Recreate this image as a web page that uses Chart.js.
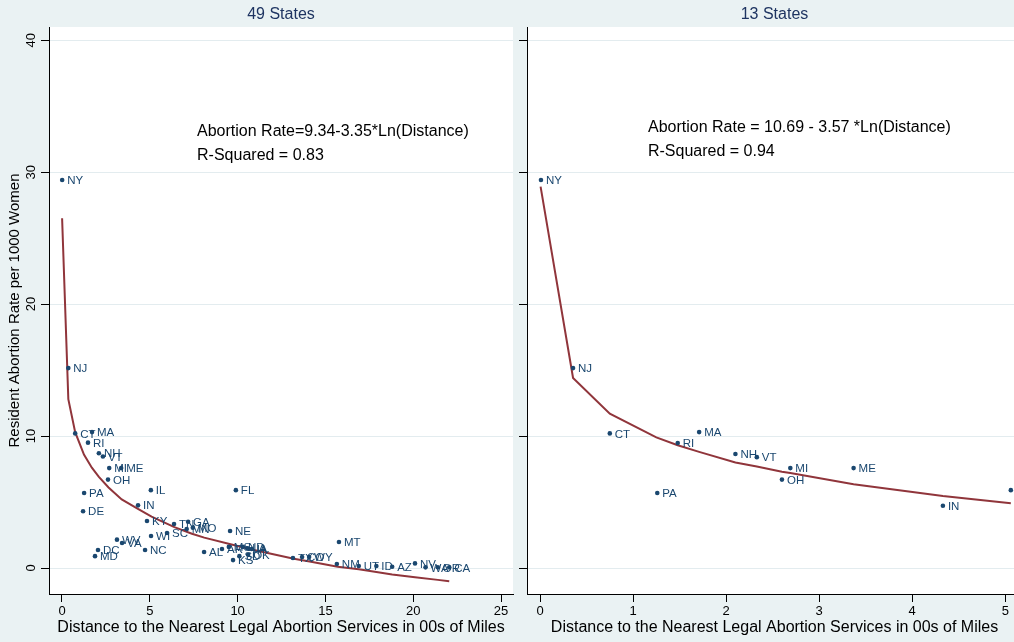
<!DOCTYPE html>
<html>
<head>
<meta charset="utf-8">
<script src="https://cdn.jsdelivr.net/npm/chart.js@4.4.1/dist/chart.umd.min.js"></script>
<style>
  body { margin: 0; background: #eaf2f3; overflow: hidden; }
  #wrap { position: relative; width: 1014px; height: 642px; overflow: hidden; }
  canvas { position: absolute; top: 0; }
</style>
</head>
<body>
<div id="wrap">
  <canvas id="left" width="514" height="642" style="left:0"></canvas>
  <canvas id="right" width="508" height="642" style="left:514px"></canvas>
</div>
<script>
// 49 states panel
const states49 = ['NY','NJ','CT','MA','RI','NH','VT','MI','ME','OH','PA','IN','IL','FL','DE','KY','TN','GA','SC','MN','MO','WI','NE','NC','WV','VA','DC','MD','AL','AR','MS','ND','LA','IA','KS','SD','OK','TX','CO','WY','MT','NM','UT','ID','AZ','NV','WA','OR','CA'];
const dist49 = [0.01,0.36,0.75,1.71,1.48,2.1,2.33,2.69,3.37,2.62,1.26,4.33,5.06,9.9,1.2,4.84,6.38,7.18,5.98,7.1,7.45,5.07,9.57,4.73,3.13,3.42,2.05,1.88,8.09,9.11,9.5,10.3,10.55,10.8,9.74,10.1,10.6,13.15,13.67,14.07,15.77,15.65,16.9,17.9,18.8,20.1,20.7,21.4,22.05];
const rate49 = [29.4,15.15,10.2,10.3,9.5,8.7,8.45,7.57,7.57,6.7,5.68,4.75,5.9,5.9,4.3,3.56,3.33,3.5,2.65,2.95,3.05,2.42,2.8,1.36,2.15,1.9,1.36,0.9,1.21,1.44,1.6,1.6,1.5,1.44,0.6,0.9,1.0,0.76,0.83,0.83,1.97,0.3,0.15,0.15,0.1,0.35,0.05,0.05,0.05];
// fitted curve
const fit49X = [0.006,0.36,0.75,1.25,1.7,2.1,2.65,3.4,4.3,5.1,6.4,7.4,8.1,9.6,10.8,13.2,14.1,15.7,16.9,17.9,18.8,20.1,21.4,22.05];
const fit49Y = [26.5,12.8,10.3,8.6,7.6,6.9,6.1,5.2,4.5,3.9,3.1,2.6,2.3,1.8,1.4,0.7,0.5,0.1,-0.1,-0.3,-0.5,-0.7,-0.9,-1.0];

// 13 states panel
const states13 = ['NY','NJ','CT','MA','RI','NH','VT','MI','ME','OH','PA','IN','IL'];
const dist13 = [0.01,0.355,0.75,1.71,1.48,2.1,2.33,2.69,3.37,2.6,1.26,4.33,5.06];
const rate13 = [29.4,15.15,10.2,10.3,9.47,8.64,8.4,7.57,7.57,6.7,5.68,4.72,5.9];
const fit13X = [0.006,0.355,0.75,1.25,1.48,1.71,2.1,2.33,2.6,2.69,3.37,4.33,5.06];
const fit13Y = [28.9,14.4,11.7,9.9,9.3,8.8,8.0,7.7,7.3,7.2,6.35,5.45,4.9];

const yTicks = [0, 10, 20, 30, 40];
const xTicksLeft = [0, 5, 10, 15, 20, 25];
const xTicksRight = [0, 1, 2, 3, 4, 5];

const NAVY = '#1a476f';
const RED = '#90353b';
const FONT = '"Liberation Sans", Arial, sans-serif';
const xTitle = 'Distance to the Nearest Legal Abortion Services in 00s of Miles';

const stataLook = {
  id: 'stataLook',
  beforeDraw(chart, args, opts) {
    const { ctx, chartArea: a } = chart;
    ctx.save();
    ctx.fillStyle = '#eaf2f3';
    ctx.fillRect(0, 0, chart.width, chart.height);
    ctx.fillStyle = '#ffffff';
    ctx.fillRect(a.left, a.top, a.right - a.left, a.bottom - a.top);
    ctx.fillStyle = '#1e3461';
    ctx.font = '16px ' + FONT;
    ctx.textAlign = 'center';
    ctx.textBaseline = 'middle';
    ctx.fillText(opts.title, (a.left + a.right) / 2, 15);
    ctx.restore();
  },
  afterDatasetsDraw(chart, args, opts) {
    const { ctx } = chart;
    const xs = chart.scales.x, ys = chart.scales.y;
    ctx.save();
    // state labels next to each dot
    ctx.fillStyle = NAVY;
    ctx.font = '11.5px ' + FONT;
    ctx.textAlign = 'left';
    ctx.textBaseline = 'middle';
    chart.getDatasetMeta(0).data.forEach((pt, i) => {
      ctx.fillText(opts.labels[i], pt.x + 5, pt.y + 1);
    });
    // equation text
    ctx.fillStyle = '#000';
    ctx.font = '16px ' + FONT;
    const ex = xs.getPixelForValue(opts.eqAt[0]);
    const ey = ys.getPixelForValue(opts.eqAt[1]);
    opts.eq.forEach((line, i) => ctx.fillText(line, ex, ey + i * 24));
    // rotated y tick labels
    if (opts.yLabels) {
      ctx.font = '13px ' + FONT;
      ctx.textAlign = 'center';
      yTicks.forEach(v => {
        const py = ys.getPixelForValue(v);
        ctx.save();
        ctx.translate(31, py);
        ctx.rotate(-Math.PI / 2);
        ctx.fillText(String(v), 0, 0);
        ctx.restore();
      });
    }
    ctx.restore();
  }
};

function makePanel(id, o) {
  return new Chart(document.getElementById(id), {
    type: 'scatter',
    data: {
      datasets: [
        {
          data: o.dist.map((d, i) => ({ x: d, y: o.rate[i] })),
          backgroundColor: NAVY,
          borderWidth: 0,
          pointRadius: 2.3
        },
        {
          data: o.fitX.map((d, i) => ({ x: d, y: o.fitY[i] })),
          showLine: true,
          borderColor: RED,
          borderWidth: 2,
          pointRadius: 0,
          tension: 0
        }
      ]
    },
    options: {
      responsive: false,
      animation: false,
      layout: { autoPadding: false, padding: { top: 27, right: o.padRight, left: 0, bottom: 0 } },
      scales: {
        x: {
          type: 'linear',
          min: o.xMin,
          max: o.xMax,
          afterBuildTicks: s => { s.ticks = o.xTicks.map(v => ({ value: v })); },
          afterFit: s => { s.height = 48; },
          grid: { drawOnChartArea: false, drawTicks: true, tickLength: 8, tickColor: '#000' },
          border: { color: '#000', width: 1 },
          ticks: { color: '#000', font: { size: 13, family: FONT }, padding: 2 },
          title: { display: true, text: xTitle, color: '#000', font: { size: 16, family: FONT }, padding: { top: 0, bottom: 5 } }
        },
        y: {
          type: 'linear',
          min: -1.97,
          max: 41,
          afterBuildTicks: s => { s.ticks = yTicks.map(v => ({ value: v })); },
          afterFit: s => { s.width = o.yWidth; },
          grid: { color: '#e3ecef', lineWidth: 1, drawTicks: true, tickLength: 8, tickColor: '#000' },
          border: { color: '#000', width: 1 },
          ticks: { display: false },
          title: {
            display: o.yTitle,
            text: 'Resident Abortion Rate per 1000 Women',
            color: '#000',
            font: { size: 15, family: FONT },
            padding: { top: 6, bottom: 0 }
          }
        }
      },
      plugins: {
        legend: { display: false },
        tooltip: { enabled: false },
        stataLook: {
          title: o.title,
          labels: o.labels,
          eq: o.eq,
          eqAt: o.eqAt,
          yLabels: o.yTitle
        }
      }
    },
    plugins: [stataLook]
  });
}

makePanel('left', {
  title: '49 States',
  labels: states49, dist: dist49, rate: rate49, fitX: fit49X, fitY: fit49Y,
  xMin: -0.74, xMax: 25.68, xTicks: xTicksLeft,
  yWidth: 49, yTitle: true, padRight: 1,
  eq: ['Abortion Rate=9.34-3.35*Ln(Distance)', 'R-Squared = 0.83'],
  eqAt: [7.69, 33.1]
});

makePanel('right', {
  title: '13 States',
  labels: states13, dist: dist13, rate: rate13, fitX: fit13X, fitY: fit13Y,
  xMin: -0.14, xMax: 5.18, xTicks: xTicksRight,
  yWidth: 13, yTitle: false, padRight: 0,
  eq: ['Abortion Rate = 10.69 - 3.57 *Ln(Distance)', 'R-Squared = 0.94'],
  eqAt: [1.16, 33.4]
});
</script>
</body>
</html>
